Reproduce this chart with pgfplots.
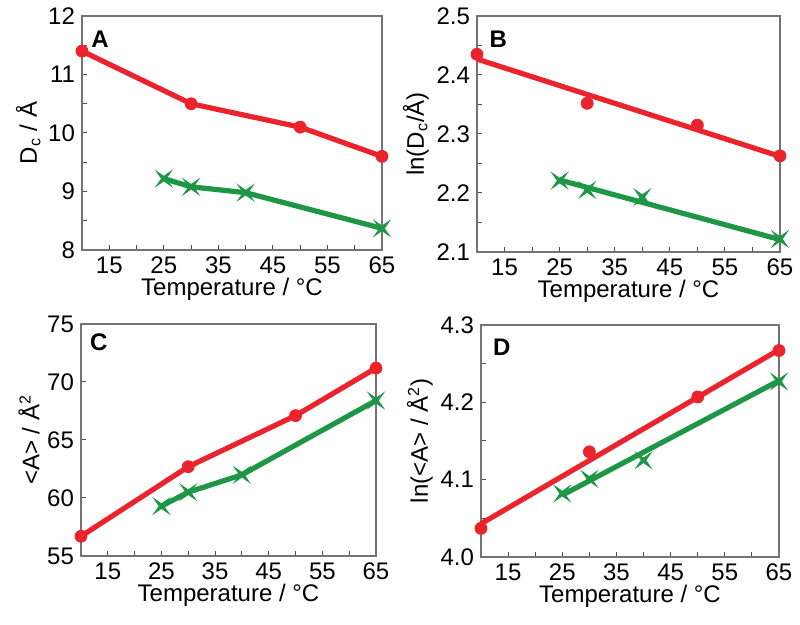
\documentclass[border=0pt]{standalone}
\usepackage{pgfplots}
\pgfplotsset{compat=1.18}
\usepackage{fontspec}
\setmainfont{Liberation Sans}
\definecolor{myred}{RGB}{235,35,45}
\definecolor{mygreen}{RGB}{30,150,70}
\pgfdeclareplotmark{xstar}{%
  \pgfpathmoveto{\pgfpoint{\pgfplotmarksize}{\pgfplotmarksize}}%
  \pgfpathlineto{\pgfpoint{0pt}{0.3\pgfplotmarksize}}%
  \pgfpathlineto{\pgfpoint{-\pgfplotmarksize}{\pgfplotmarksize}}%
  \pgfpathlineto{\pgfpoint{-0.3\pgfplotmarksize}{0pt}}%
  \pgfpathlineto{\pgfpoint{-\pgfplotmarksize}{-\pgfplotmarksize}}%
  \pgfpathlineto{\pgfpoint{0pt}{-0.3\pgfplotmarksize}}%
  \pgfpathlineto{\pgfpoint{\pgfplotmarksize}{-\pgfplotmarksize}}%
  \pgfpathlineto{\pgfpoint{0.3\pgfplotmarksize}{0pt}}%
  \pgfpathclose
  \pgfusepathqfillstroke}
\tikzset{letter/.style={font=\bfseries\fontsize{12}{13}\selectfont}}
\pgfplotsset{
  panel/.style={
    scale only axis, clip=false,
    xmin=10, xmax=65,
    xtick={15,25,...,65}, minor xtick={20,30,...,60},
    tick pos=left, tick align=inside,
    major tick length=2.5pt, minor tick length=2.5pt,
    axis line style={draw=black!55, line width=0.6pt},
    every tick/.style={draw=black!70, line width=0.5pt},
    tick label style={font=\fontsize{12}{13}\selectfont},
    label style={font=\fontsize{12}{13}\selectfont},
    /pgf/number format/assume math mode=true,
    xlabel={Temperature / °C},
    xlabel style={yshift=5pt},
    ylabel style={yshift=-3pt},
  },
  redline/.style={color=myred, line width=2.6pt, mark=*, mark size=3pt, mark options={solid, line width=0.4pt}},
  greenline/.style={color=mygreen, line width=2.6pt, mark=xstar, mark size=3.6pt, mark options={solid, line width=0.5pt}},
  redmark/.style={only marks, color=myred, mark=*, mark size=3pt, mark options={line width=0.4pt}},
  greenmark/.style={only marks, color=mygreen, mark=xstar, mark size=3.6pt, mark options={line width=0.5pt}},
  fitred/.style={color=myred, line width=2.6pt, no marks},
  fitgreen/.style={color=mygreen, line width=2.6pt, no marks},
}
\begin{document}
\begin{tikzpicture}
\useasboundingbox (0,0) rectangle (400pt,312.5pt);
% Panel A
\begin{axis}[panel, at={(41pt,187.5pt)}, anchor=south west, width=150pt, height=117pt,
  ymin=8, ymax=12, ytick={8,9,...,12}, minor ytick={8.5,9.5,...,11.5},
  ylabel={D\textsubscript{c} / Å}]
\addplot[redline] coordinates {(10,11.4) (30,10.5) (50,10.1) (65,9.6)};
\addplot[greenline] coordinates {(25,9.22) (30,9.08) (40,8.98) (65,8.37)};
\node[letter] at (rel axis cs:0.06,0.9) {A};
\end{axis}
% Panel B
\begin{axis}[panel, at={(238.5pt,186.5pt)}, anchor=south west, width=151.5pt, height=118pt,
  ymin=2.1, ymax=2.5, ytick={2.1,2.2,...,2.5}, minor ytick={2.15,2.25,...,2.45},
  yticklabel style={/pgf/number format/.cd, fixed, fixed zerofill, precision=1},
  ylabel={ln(D\textsubscript{c}/Å)}]
\addplot[fitred] coordinates {(10,2.427) (65,2.262)};
\addplot[redmark] coordinates {(10,2.435) (30,2.352) (50,2.315) (65,2.263)};
\addplot[fitgreen] coordinates {(25,2.222) (65,2.121)};
\addplot[greenmark] coordinates {(25,2.221) (30,2.205) (40,2.193) (65,2.122)};
\node[letter] at (rel axis cs:0.07,0.9) {B};
\end{axis}
% Panel C
\begin{axis}[panel, at={(40.5pt,34.5pt)}, anchor=south west, width=147.5pt, height=116pt,
  ymin=55, ymax=75, ytick={55,60,...,75},
  ylabel={<A> / Å\textsuperscript{2}}]
\addplot[redline] coordinates {(10,56.7) (30,62.7) (50,67.1) (65,71.2)};
\addplot[greenline] coordinates {(25,59.3) (30,60.5) (40,62.0) (65,68.4)};
\node[letter] at (rel axis cs:0.06,0.92) {C};
\end{axis}
% Panel D
\begin{axis}[panel, at={(240.5pt,34pt)}, anchor=south west, width=149pt, height=116pt,
  ymin=4.0, ymax=4.3, ytick={4.0,4.1,...,4.3}, minor ytick={4.05,4.15,4.25},
  yticklabel style={/pgf/number format/.cd, fixed, fixed zerofill, precision=1},
  ylabel={ln(<A> / Å\textsuperscript{2})}]
\addplot[fitred] coordinates {(10,4.043) (65,4.268)};
\addplot[redmark] coordinates {(10,4.037) (30,4.136) (50,4.207) (65,4.267)};
\addplot[fitgreen] coordinates {(25,4.080) (65,4.228)};
\addplot[greenmark] coordinates {(25,4.082) (30,4.101) (40,4.125) (65,4.227)};
\node[letter] at (rel axis cs:0.07,0.905) {D};
\end{axis}
\end{tikzpicture}
\end{document}
